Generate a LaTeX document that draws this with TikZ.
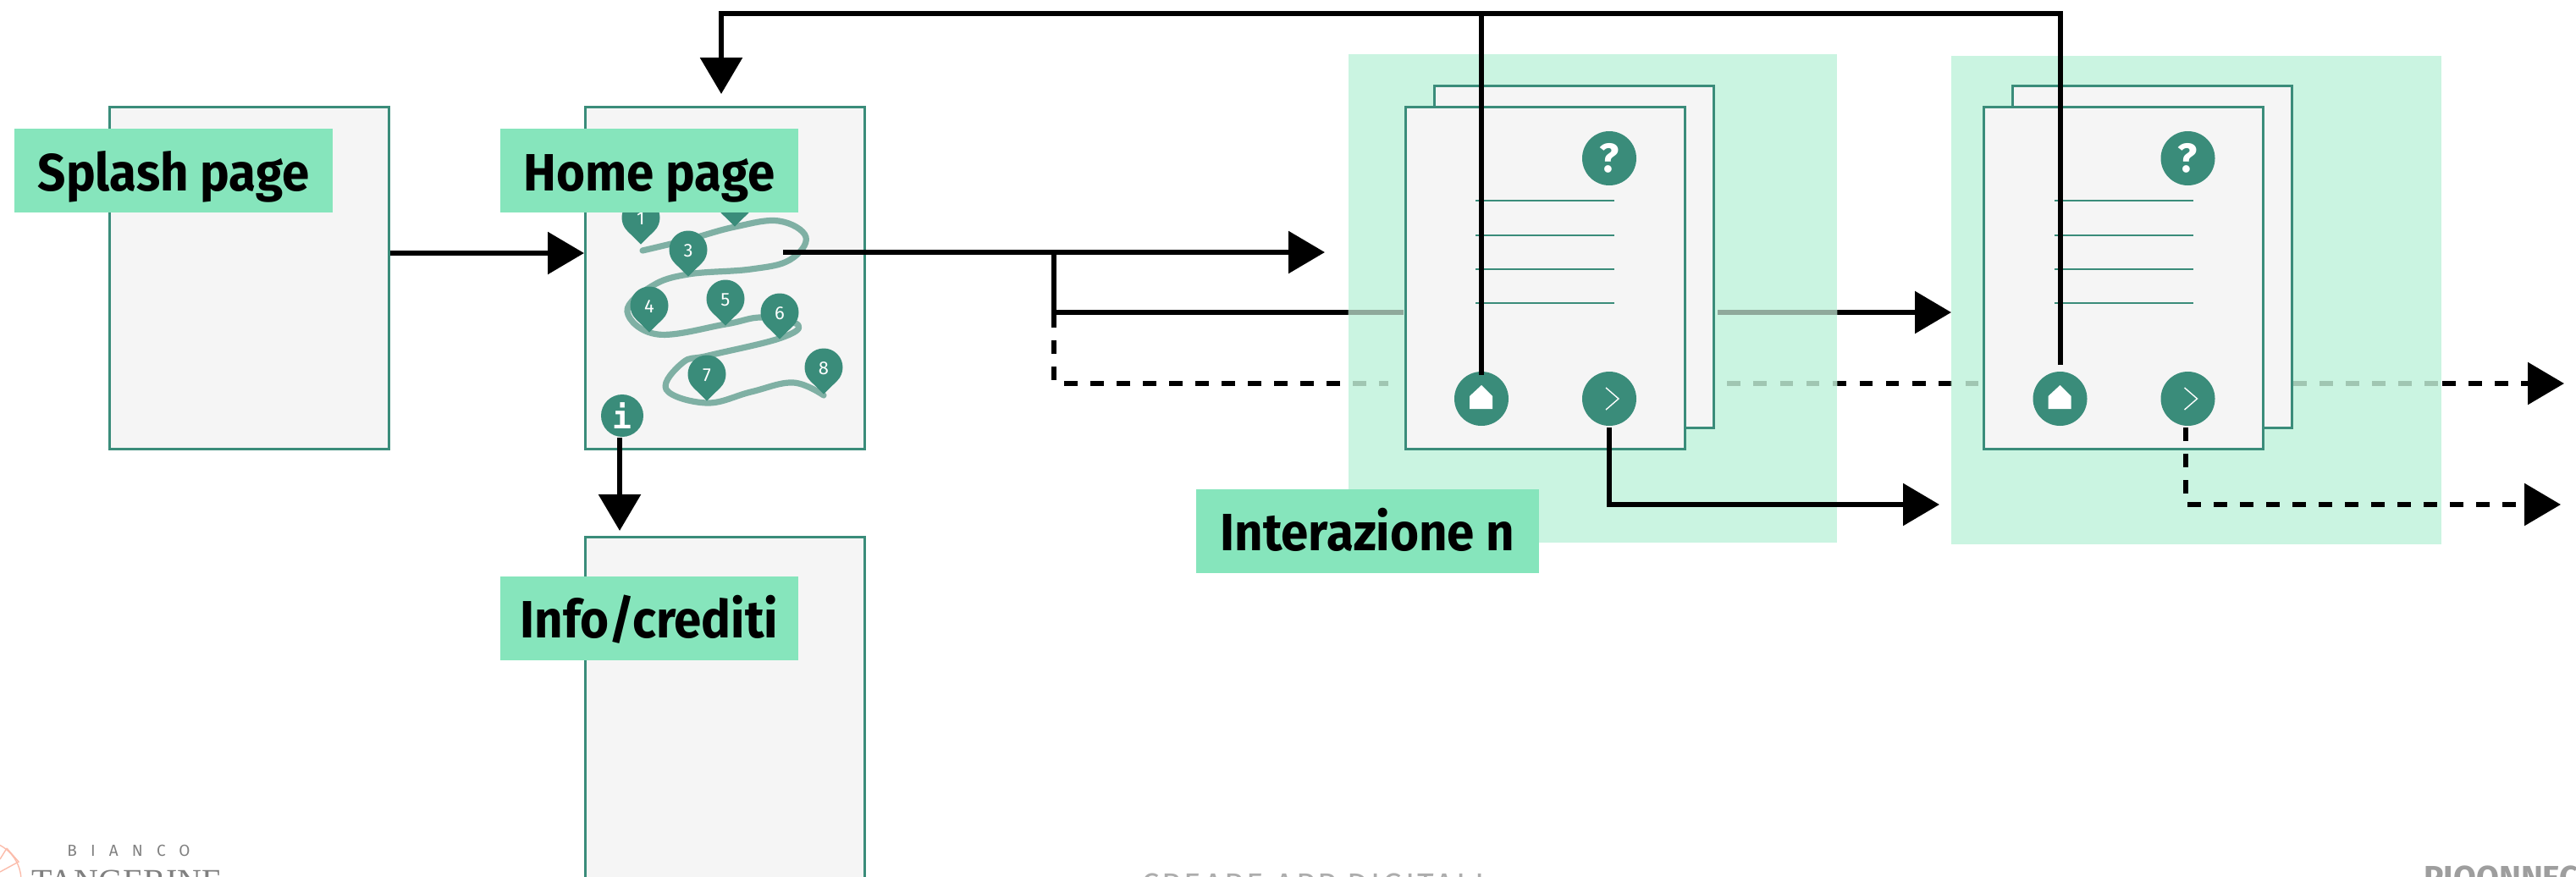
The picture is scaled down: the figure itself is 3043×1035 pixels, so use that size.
\documentclass[tikz,border=0pt]{standalone}
\usepackage{fontspec}
\setmainfont{Fira Sans}
\newfontfamily\monofam{DejaVu Sans Mono}
\newfontfamily\serifam{Liberation Serif}
\usetikzlibrary{arrows.meta,calc}
\definecolor{teal1}{HTML}{3A8C7A}
\definecolor{trail}{HTML}{7FB0A4}
\definecolor{cardfill}{HTML}{F5F5F5}
\definecolor{labelgreen}{HTML}{86E5BC}
\definecolor{panelgreen}{HTML}{CAF4E1}
\definecolor{mutedsolid}{HTML}{8FA99B}
\definecolor{muteddash}{HTML}{A0C6B2}
\definecolor{logopink}{HTML}{FBBCAB}
\tikzset{
  card/.style={draw=teal1,line width=1.5pt,fill=cardfill,inner sep=0pt,minimum width=165pt,minimum height=202pt},
  tag/.style={fill=labelgreen,inner sep=0pt,minimum height=49.5pt,text height=31pt,text depth=7.5pt,font=\fontsize{31}{31}\selectfont\bfseries\addfontfeature{FakeStretch=0.94}},
  panel/.style={fill=panelgreen,draw=none,inner sep=0pt},
  icon/.style={circle,fill=teal1,inner sep=0pt,minimum size=32pt,text=white},
  conn/.style={line width=3pt},
  arr/.style={conn,-{Triangle[length=21.5pt,width=24.5pt]}},
  dashes/.style={dash pattern=on 7.75pt off 7.75pt},
  rule/.style={draw=teal1,line width=0.7pt},
  pinnum/.style={inner sep=0pt,text=white,font=\fontsize{11}{11}\selectfont},
}
\newcommand{\mappin}[5]{%
  \fill[teal1] (#2,#3+31.5) -- ($(#2,#3)+(-45:11.25pt)$) arc[start angle=-45,end angle=225,radius=11.25pt] -- cycle;
  \node[pinnum] (#1) at (#2,#3+1) {#4#5};}
\newcommand{\greylinks}[2]{%
  \draw[conn,#1] (branch) -- (gapA);
  \draw[arr,#1] (gapB) -- (ptwo);
  \draw[conn,dashes,#2] (dA) -- (dB);
  \draw[conn,dash pattern=on 7.75pt off 7.9pt,#2] (dC) -- (dE);
  \draw[conn,dashes,#2] (dF) -- (dG);
  \draw[arr,dashes,#2] (dH) -- (dD);
}
\newcommand{\stack}[2]{%
  \node[card] (#1back) at (#2+34,303) {};
  \node[card] (#1front) at (#2,328.5) {};
  \node[icon,font=\fontsize{24}{24}\selectfont\bfseries] (#1help) at (#2+76,187) {?};
  \node[icon] (#1home) at (#2-75,471) {};
  \node[icon] (#1next) at (#2+76,471) {};
  \foreach \yy in {237,278,318,358} \draw[rule] (#2-82,\yy) -- (#2+82,\yy);
  \fill[white] (#2-89,483) -- (#2-89,468) -- (#2-75,455) -- (#2-62,468) -- (#2-62,483) -- cycle;
  \draw[white,line width=0.7pt] (#2+72,458) -- (#2+87,471) -- (#2+72,484);
}
\begin{document}
\begin{tikzpicture}[x=0.5pt,y=-0.5pt]
\clip (0,0) rectangle (3043,1035);
\useasboundingbox (0,0) rectangle (3043,1035);
% coordinates of connector ends
\coordinate (branch) at (1245,369);
\coordinate (gapA) at (1658,369);
\coordinate (gapB) at (2029,369);
\coordinate (ptwo) at (2305,369);
\coordinate (dA) at (1257,453);
\coordinate (dB) at (1640,453);
\coordinate (dC) at (2040,453);
\coordinate (dE) at (2344,453);
\coordinate (dF) at (2709,453);
\coordinate (dG) at (2881,453);
\coordinate (dH) at (2885,453);
\coordinate (dD) at (3029,453);
% under-panel connectors
\greylinks{black}{black}
\draw[conn] (1245,298) -- (1245,387);
\draw[conn,dash pattern=on 7.75pt off 7.75pt] (1245,402) -- (1245,449);
% panels
\node[panel,minimum width=288.5pt,minimum height=288.5pt] (panelA) at (1881.5,352) {};
\node[panel,minimum width=289.5pt,minimum height=288.5pt] (panelB) at (2594.5,354) {};
\begin{scope}
  \clip (panelA.north west) rectangle (panelA.south east);
  \greylinks{mutedsolid}{muteddash}
\end{scope}
\begin{scope}
  \clip (panelB.north west) rectangle (panelB.south east);
  \greylinks{mutedsolid}{muteddash}
\end{scope}
% cards
\node[card] (splash) at (294.5,328) {};
\node[card] (home) at (856.5,328) {};
\node[card,minimum height=300pt,anchor=north] (info) at (856.5,633) {};
\stack{a}{1825}
\stack{b}{2508.5}
% trail on home page
\draw[trail,line width=3.6pt,line cap=round,line join=round] plot[smooth,tension=0.65] coordinates {(759,296)(813,283)(868,268)(920,261)(952,280)(933,307)(887,318)(813,324)(770,338)(741,368)(777,395)(857,383)(900,375)(943,384)(920,400)(837,420)(807,428)(787,460)(835,476)(887,463)(937,452)(973,467)};
\mappin{pinA}{757}{257}{1}{}
\mappin{pinB}{868}{236}{}{}
\mappin{pinC}{813}{295}{3}{}
\mappin{pinD}{767}{361}{4}{}
\mappin{pinE}{857}{353}{5}{}
\mappin{pinF}{921}{369}{6}{}
\mappin{pinG}{835}{442}{7}{}
\mappin{pinH}{973}{434}{8}{}
\node[icon,minimum size=25pt,font=\monofam\fontsize{19}{19}\selectfont\bfseries] (infoicon) at (735,491) {i};
% labels
\node[tag,minimum width=188pt] (splashtag) at (205,201.5) {Splash page};
\node[tag,minimum width=176pt] (hometag) at (767,201.5) {Home page};
\node[tag,minimum width=176pt] (infotag) at (767,730) {Info/crediti};
\node[tag,minimum width=202.5pt] (itertag) at (1615.5,627) {Interazione n};
% connectors on top
\coordinate (sOut) at (461,299);
\coordinate (sIn) at (690,299);
\coordinate (hOut) at (925,298);
\coordinate (hTip) at (1565,298);
\draw[arr] (sOut) -- (sIn);
\draw[arr] (hOut) -- (hTip);
\coordinate (topA) at (1750,16);
\coordinate (topB) at (2434,16);
\coordinate (topL) at (852,16);
\coordinate (topTip) at (852,111);
\coordinate (aHomeTop) at (1750,443);
\coordinate (bHomeTop) at (2434,431);
\draw[conn] (aHomeTop) -- (topA);
\draw[arr] (bHomeTop) -- (topB) -- (topL) -- (topTip);
\coordinate (iOut) at (732,517);
\coordinate (iTip) at (732,627);
\draw[arr] (iOut) -- (iTip);
\coordinate (aNextOut) at (1901,505);
\coordinate (aNextCorner) at (1901,596);
\coordinate (aNextTip) at (2291,596);
\draw[arr] (aNextOut) -- (aNextCorner) -- (aNextTip);
\coordinate (bNextOut) at (2582,505);
\coordinate (bNextCorner) at (2582,585);
\coordinate (bNextStart) at (2584,596);
\coordinate (bNextTip) at (3025,596);
\draw[conn,dashes] (bNextOut) -- (bNextCorner);
\draw[arr,dashes] (bNextStart) -- (bNextTip);
% clipped footer
\draw[logopink,line width=0.7pt] (-22,1040) circle[radius=23.5pt];
\draw[logopink,line width=0.7pt] (0,1015) -- (8,1002) (0,1030) -- (22,1018) -- (8,1002);
\node[anchor=base west,inner sep=0pt,text=black!50,font=\fontsize{9.5}{9.5}\selectfont\addfontfeature{LetterSpace=85}] (bianco) at (79,1011) {BIANCO};
\node[anchor=base west,inner sep=0pt,text=black!50,font=\serifam\fontsize{20}{20}\selectfont] (tang) at (37,1054) {TANGERINE};
\node[anchor=base west,inner sep=0pt,text=black!32,font=\fontsize{19}{19}\selectfont\addfontfeature{LetterSpace=8}] (foot) at (1348,1058) {CREARE APP DIGITALI};
\node[anchor=base west,inner sep=0pt,text=black!38,font=\fontsize{19.5}{19.5}\selectfont\bfseries] (brand) at (2863,1050) {PIOONNEC};
\end{tikzpicture}
\end{document}
